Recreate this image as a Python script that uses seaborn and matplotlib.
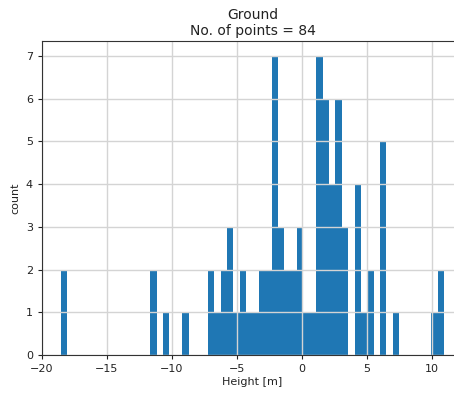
import matplotlib
matplotlib.use("Agg")
import matplotlib.pyplot as plt
import seaborn as sns
import numpy as np

# Histogram of ground heights: 60 equal bins between the lowest and highest point
height_min = -18.54
height_max = 10.94
n_bins = 60

# Occupied bins (index into the 60 bins) and the number of points in each
bin_index = [0, 14, 16, 19, 23, 24, 25, 26, 27, 28, 29, 30, 31, 32, 33, 34, 35,
             36, 37, 38, 39, 40, 41, 42, 43, 44, 46, 47, 48, 50, 52, 58, 59]
bin_count = [2, 2, 1, 1, 2, 1, 2, 3, 1, 2, 1, 1, 2, 2, 7, 3, 2,
             2, 3, 1, 1, 7, 6, 4, 6, 3, 4, 1, 2, 5, 1, 1, 2]

title_text = "Ground\nNo. of points = 84"
x_label = "Height [m]"
y_label = "count"

width = (height_max - height_min) / n_bins
centers = [height_min + (i + 0.5) * width for i in bin_index]

fig = plt.figure(figsize=(4.54, 3.94), dpi=100)
ax = fig.add_axes([42 / 454, 39 / 394, 421 / 454, 314 / 394])

sns.histplot(x=centers, weights=bin_count, bins=n_bins,
             binrange=(height_min, height_max), color="#1f77b4",
             alpha=1, edgecolor="none", linewidth=0, ax=ax)

ax.grid(True, color="#d4d4d4", linewidth=1.0)
ax.set_axisbelow("line")
ax.set_xlim(-20.0, 12.41)
ax.set_ylim(0, 7.35)
ax.set_xticks([-20, -15, -10, -5, 0, 5, 10])
ax.set_yticks(range(0, 8))
ax.tick_params(labelsize=8, length=3, width=0.8, colors="#222222")
ax.set_xlabel(x_label, fontsize=8, labelpad=2, color="#222222")
ax.set_ylabel(y_label, fontsize=8, labelpad=4, color="#222222")
ax.set_title(title_text, fontsize=10, pad=4, color="#222222")
for s in ax.spines.values():
    s.set_linewidth(0.8)
    s.set_color("#333333")

fig.savefig("out.png", dpi=100)
